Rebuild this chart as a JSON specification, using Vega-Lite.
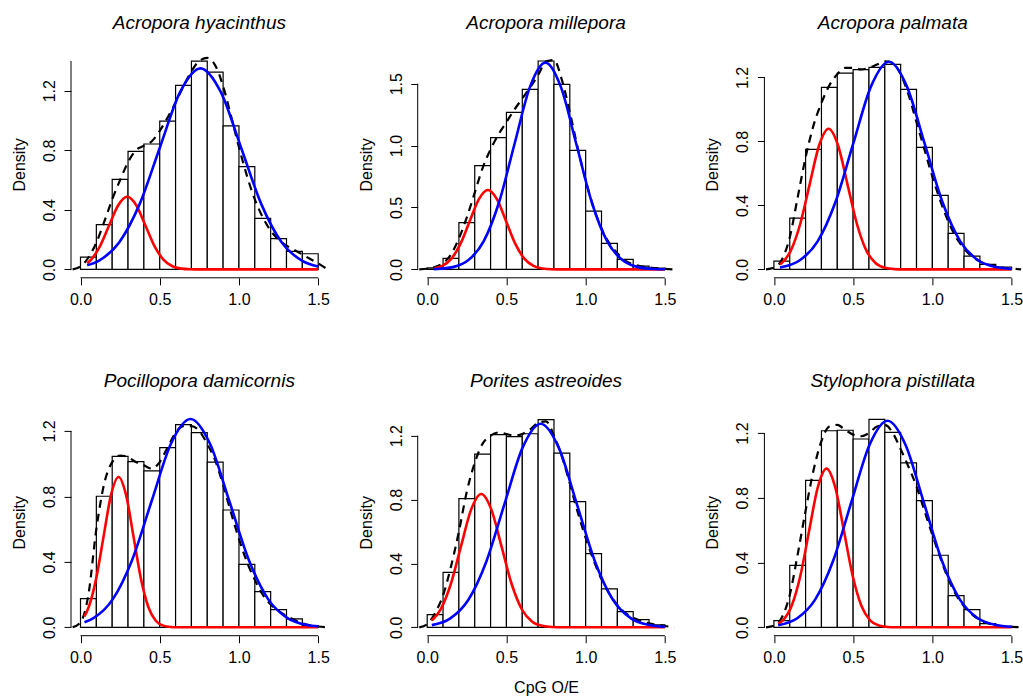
{
"$schema": "https://vega.github.io/schema/vega-lite/v6.json",
"padding": {"left": 11, "top": 14, "right": 5, "bottom": 2},
"background": "white",
"config": {
  "view": {"stroke": null},
  "font": "Liberation Sans",
  "axis": {"labelFont": "Liberation Sans", "labelFontSize": 16, "labelColor": "black", "tickColor": "black", "tickSize": 7, "tickWidth": 1, "domain": false, "grid": false, "titleFont": "Liberation Sans", "titleFontSize": 16, "titleFontWeight": "normal", "titleColor": "black", "labelOverlap": false, "labelFlush": false},
  "axisX": {"labelPadding": 6.8, "titleY": 43.4, "titleBaseline": "top"},
  "axisY": {"labelAngle": 270, "labelAlign": "center", "labelBaseline": "bottom", "labelPadding": 6.5, "titleX": -43.5, "titleY": 113.4, "titleAngle": 270, "titleAlign": "center", "titleBaseline": "bottom"},
  "title": {"font": "Liberation Sans", "fontSize": 19, "fontStyle": "italic", "fontWeight": "normal", "color": "black", "baseline": "alphabetic", "offset": 17.6, "frame": "group", "anchor": "middle"}
},
"datasets": {
"bars": [
{"s":1,"x0":0.0,"x1":0.1,"d":0.083},{"s":1,"x0":0.1,"x1":0.2,"d":0.300},{"s":1,"x0":0.2,"x1":0.3,"d":0.604},{"s":1,"x0":0.3,"x1":0.4,"d":0.792},{"s":1,"x0":0.4,"x1":0.5,"d":0.842},{"s":1,"x0":0.5,"x1":0.6,"d":0.996},{"s":1,"x0":0.6,"x1":0.7,"d":1.236},{"s":1,"x0":0.7,"x1":0.8,"d":1.399},{"s":1,"x0":0.8,"x1":0.9,"d":1.325},{"s":1,"x0":0.9,"x1":1.0,"d":0.963},{"s":1,"x0":1.0,"x1":1.1,"d":0.690},{"s":1,"x0":1.1,"x1":1.2,"d":0.343},{"s":1,"x0":1.2,"x1":1.3,"d":0.206},{"s":1,"x0":1.3,"x1":1.4,"d":0.121},{"s":1,"x0":1.4,"x1":1.5,"d":0.105},
{"s":2,"x0":0.0,"x1":0.1,"d":0.013},{"s":2,"x0":0.1,"x1":0.2,"d":0.089},{"s":2,"x0":0.2,"x1":0.3,"d":0.377},{"s":2,"x0":0.3,"x1":0.4,"d":0.838},{"s":2,"x0":0.4,"x1":0.5,"d":1.064},{"s":2,"x0":0.5,"x1":0.6,"d":1.268},{"s":2,"x0":0.6,"x1":0.7,"d":1.454},{"s":2,"x0":0.7,"x1":0.8,"d":1.683},{"s":2,"x0":0.8,"x1":0.9,"d":1.495},{"s":2,"x0":0.9,"x1":1.0,"d":0.962},{"s":2,"x0":1.0,"x1":1.1,"d":0.471},{"s":2,"x0":1.1,"x1":1.2,"d":0.210},{"s":2,"x0":1.2,"x1":1.3,"d":0.081},{"s":2,"x0":1.3,"x1":1.4,"d":0.027},{"s":2,"x0":1.4,"x1":1.5,"d":0.011},
{"s":3,"x0":0.0,"x1":0.1,"d":0.052},{"s":3,"x0":0.1,"x1":0.2,"d":0.321},{"s":3,"x0":0.2,"x1":0.3,"d":0.750},{"s":3,"x0":0.3,"x1":0.4,"d":1.138},{"s":3,"x0":0.4,"x1":0.5,"d":1.227},{"s":3,"x0":0.5,"x1":0.6,"d":1.248},{"s":3,"x0":0.6,"x1":0.7,"d":1.263},{"s":3,"x0":0.7,"x1":0.8,"d":1.281},{"s":3,"x0":0.8,"x1":0.9,"d":1.125},{"s":3,"x0":0.9,"x1":1.0,"d":0.763},{"s":3,"x0":1.0,"x1":1.1,"d":0.463},{"s":3,"x0":1.1,"x1":1.2,"d":0.225},{"s":3,"x0":1.2,"x1":1.3,"d":0.083},{"s":3,"x0":1.3,"x1":1.4,"d":0.031},{"s":3,"x0":1.4,"x1":1.5,"d":0.015},
{"s":4,"x0":0.0,"x1":0.1,"d":0.175},{"s":4,"x0":0.1,"x1":0.2,"d":0.801},{"s":4,"x0":0.2,"x1":0.3,"d":1.045},{"s":4,"x0":0.3,"x1":0.4,"d":1.013},{"s":4,"x0":0.4,"x1":0.5,"d":0.956},{"s":4,"x0":0.5,"x1":0.6,"d":1.098},{"s":4,"x0":0.6,"x1":0.7,"d":1.239},{"s":4,"x0":0.7,"x1":0.8,"d":1.190},{"s":4,"x0":0.8,"x1":0.9,"d":1.009},{"s":4,"x0":0.9,"x1":1.0,"d":0.717},{"s":4,"x0":1.0,"x1":1.1,"d":0.385},{"s":4,"x0":1.1,"x1":1.2,"d":0.218},{"s":4,"x0":1.2,"x1":1.3,"d":0.108},{"s":4,"x0":1.3,"x1":1.4,"d":0.051},{"s":4,"x0":1.4,"x1":1.5,"d":0.010},
{"s":5,"x0":0.0,"x1":0.1,"d":0.079},{"s":5,"x0":0.1,"x1":0.2,"d":0.344},{"s":5,"x0":0.2,"x1":0.3,"d":0.806},{"s":5,"x0":0.3,"x1":0.4,"d":1.085},{"s":5,"x0":0.4,"x1":0.5,"d":1.206},{"s":5,"x0":0.5,"x1":0.6,"d":1.194},{"s":5,"x0":0.6,"x1":0.7,"d":1.212},{"s":5,"x0":0.7,"x1":0.8,"d":1.300},{"s":5,"x0":0.8,"x1":0.9,"d":1.091},{"s":5,"x0":0.9,"x1":1.0,"d":0.787},{"s":5,"x0":1.0,"x1":1.1,"d":0.461},{"s":5,"x0":1.1,"x1":1.2,"d":0.240},{"s":5,"x0":1.2,"x1":1.3,"d":0.098},{"s":5,"x0":1.3,"x1":1.4,"d":0.048},{"s":5,"x0":1.4,"x1":1.5,"d":0.015},
{"s":6,"x0":0.0,"x1":0.1,"d":0.041},{"s":6,"x0":0.1,"x1":0.2,"d":0.383},{"s":6,"x0":0.2,"x1":0.3,"d":0.908},{"s":6,"x0":0.3,"x1":0.4,"d":1.214},{"s":6,"x0":0.4,"x1":0.5,"d":1.217},{"s":6,"x0":0.5,"x1":0.6,"d":1.163},{"s":6,"x0":0.6,"x1":0.7,"d":1.284},{"s":6,"x0":0.7,"x1":0.8,"d":1.204},{"s":6,"x0":0.8,"x1":0.9,"d":1.015},{"s":6,"x0":0.9,"x1":1.0,"d":0.782},{"s":6,"x0":1.0,"x1":1.1,"d":0.445},{"s":6,"x0":1.1,"x1":1.2,"d":0.196},{"s":6,"x0":1.2,"x1":1.3,"d":0.109},{"s":6,"x0":1.3,"x1":1.4,"d":0.023},{"s":6,"x0":1.4,"x1":1.5,"d":0.006}
],
"curves": [
{"s":1,"c":"r","x":0.042,"y":0.0415},{"s":1,"c":"r","x":0.067,"y":0.066},{"s":1,"c":"r","x":0.124,"y":0.158},{"s":1,"c":"r","x":0.181,"y":0.296},{"s":1,"c":"r","x":0.238,"y":0.431},{"s":1,"c":"r","x":0.295,"y":0.488},{"s":1,"c":"r","x":0.352,"y":0.431},{"s":1,"c":"r","x":0.409,"y":0.296},{"s":1,"c":"r","x":0.466,"y":0.158},{"s":1,"c":"r","x":0.523,"y":0.066},{"s":1,"c":"r","x":0.58,"y":0.0214},{"s":1,"c":"r","x":0.637,"y":0.0054},{"s":1,"c":"r","x":0.694,"y":0.0011},{"s":1,"c":"r","x":0.751,"y":0},{"s":1,"c":"r","x":1.5,"y":0},
{"s":1,"c":"b","x":0.042,"y":0.0276},{"s":1,"c":"b","x":0.117,"y":0.0593},{"s":1,"c":"b","x":0.245,"y":0.1827},{"s":1,"c":"b","x":0.373,"y":0.4383},{"s":1,"c":"b","x":0.501,"y":0.8188},{"s":1,"c":"b","x":0.629,"y":1.1914},{"s":1,"c":"b","x":0.757,"y":1.35},{"s":1,"c":"b","x":0.885,"y":1.1914},{"s":1,"c":"b","x":1.013,"y":0.8188},{"s":1,"c":"b","x":1.141,"y":0.4383},{"s":1,"c":"b","x":1.269,"y":0.1827},{"s":1,"c":"b","x":1.397,"y":0.0593},{"s":1,"c":"b","x":1.5,"y":0.0201},
{"s":2,"c":"r","x":0.042,"y":0.0078},{"s":2,"c":"r","x":0.0955,"y":0.0281},{"s":2,"c":"r","x":0.153,"y":0.0867},{"s":2,"c":"r","x":0.2105,"y":0.2081},{"s":2,"c":"r","x":0.268,"y":0.3888},{"s":2,"c":"r","x":0.3255,"y":0.5657},{"s":2,"c":"r","x":0.383,"y":0.641},{"s":2,"c":"r","x":0.4405,"y":0.5657},{"s":2,"c":"r","x":0.498,"y":0.3888},{"s":2,"c":"r","x":0.5555,"y":0.2081},{"s":2,"c":"r","x":0.613,"y":0.0867},{"s":2,"c":"r","x":0.6705,"y":0.0281},{"s":2,"c":"r","x":0.728,"y":0.0071},{"s":2,"c":"r","x":0.7855,"y":0.0014},{"s":2,"c":"r","x":0.843,"y":0},{"s":2,"c":"r","x":1.5,"y":0},
{"s":2,"c":"b","x":0.042,"y":0.0025},{"s":2,"c":"b","x":0.0635,"y":0.0037},{"s":2,"c":"b","x":0.161,"y":0.0185},{"s":2,"c":"b","x":0.2585,"y":0.0733},{"s":2,"c":"b","x":0.356,"y":0.226},{"s":2,"c":"b","x":0.4535,"y":0.5422},{"s":2,"c":"b","x":0.551,"y":1.0129},{"s":2,"c":"b","x":0.6485,"y":1.4738},{"s":2,"c":"b","x":0.746,"y":1.67},{"s":2,"c":"b","x":0.8435,"y":1.4738},{"s":2,"c":"b","x":0.941,"y":1.0129},{"s":2,"c":"b","x":1.0385,"y":0.5422},{"s":2,"c":"b","x":1.136,"y":0.226},{"s":2,"c":"b","x":1.2335,"y":0.0733},{"s":2,"c":"b","x":1.331,"y":0.0185},{"s":2,"c":"b","x":1.4285,"y":0.0037},{"s":2,"c":"b","x":1.5,"y":0.0015},
{"s":3,"c":"r","x":0.038,"y":0.0315},{"s":3,"c":"r","x":0.0475,"y":0.0386},{"s":3,"c":"r","x":0.107,"y":0.1189},{"s":3,"c":"r","x":0.1665,"y":0.2854},{"s":3,"c":"r","x":0.226,"y":0.5331},{"s":3,"c":"r","x":0.2855,"y":0.7757},{"s":3,"c":"r","x":0.345,"y":0.879},{"s":3,"c":"r","x":0.4045,"y":0.7757},{"s":3,"c":"r","x":0.464,"y":0.5331},{"s":3,"c":"r","x":0.5235,"y":0.2854},{"s":3,"c":"r","x":0.583,"y":0.1189},{"s":3,"c":"r","x":0.6425,"y":0.0386},{"s":3,"c":"r","x":0.702,"y":0.0098},{"s":3,"c":"r","x":0.7615,"y":0.0019},{"s":3,"c":"r","x":0.821,"y":0},{"s":3,"c":"r","x":1.5,"y":0},
{"s":3,"c":"b","x":0.038,"y":0.012},{"s":3,"c":"b","x":0.051,"y":0.0144},{"s":3,"c":"b","x":0.1635,"y":0.057},{"s":3,"c":"b","x":0.276,"y":0.1756},{"s":3,"c":"b","x":0.3885,"y":0.4215},{"s":3,"c":"b","x":0.501,"y":0.7872},{"s":3,"c":"b","x":0.6135,"y":1.1455},{"s":3,"c":"b","x":0.726,"y":1.298},{"s":3,"c":"b","x":0.8385,"y":1.1455},{"s":3,"c":"b","x":0.951,"y":0.7872},{"s":3,"c":"b","x":1.0635,"y":0.4215},{"s":3,"c":"b","x":1.176,"y":0.1756},{"s":3,"c":"b","x":1.2885,"y":0.057},{"s":3,"c":"b","x":1.401,"y":0.0144},{"s":3,"c":"b","x":1.5,"y":0.0035},
{"s":4,"c":"r","x":0.025,"y":0.0669},{"s":4,"c":"r","x":0.052,"y":0.1243},{"s":4,"c":"r","x":0.099,"y":0.2984},{"s":4,"c":"r","x":0.146,"y":0.5574},{"s":4,"c":"r","x":0.193,"y":0.811},{"s":4,"c":"r","x":0.24,"y":0.919},{"s":4,"c":"r","x":0.287,"y":0.811},{"s":4,"c":"r","x":0.334,"y":0.5574},{"s":4,"c":"r","x":0.381,"y":0.2984},{"s":4,"c":"r","x":0.428,"y":0.1243},{"s":4,"c":"r","x":0.475,"y":0.0403},{"s":4,"c":"r","x":0.522,"y":0.0102},{"s":4,"c":"r","x":0.569,"y":0.002},{"s":4,"c":"r","x":0.616,"y":0},{"s":4,"c":"r","x":1.5,"y":0},
{"s":4,"c":"b","x":0.025,"y":0.0305},{"s":4,"c":"b","x":0.0815,"y":0.0559},{"s":4,"c":"b","x":0.204,"y":0.1722},{"s":4,"c":"b","x":0.3265,"y":0.4133},{"s":4,"c":"b","x":0.449,"y":0.7721},{"s":4,"c":"b","x":0.5715,"y":1.1234},{"s":4,"c":"b","x":0.694,"y":1.273},{"s":4,"c":"b","x":0.8165,"y":1.1234},{"s":4,"c":"b","x":0.939,"y":0.7721},{"s":4,"c":"b","x":1.0615,"y":0.4133},{"s":4,"c":"b","x":1.184,"y":0.1722},{"s":4,"c":"b","x":1.3065,"y":0.0559},{"s":4,"c":"b","x":1.429,"y":0.0141},{"s":4,"c":"b","x":1.5,"y":0.0057},
{"s":5,"c":"r","x":0.029,"y":0.0428},{"s":5,"c":"r","x":0.085,"y":0.113},{"s":5,"c":"r","x":0.149,"y":0.2711},{"s":5,"c":"r","x":0.213,"y":0.5064},{"s":5,"c":"r","x":0.277,"y":0.7369},{"s":5,"c":"r","x":0.341,"y":0.835},{"s":5,"c":"r","x":0.405,"y":0.7369},{"s":5,"c":"r","x":0.469,"y":0.5064},{"s":5,"c":"r","x":0.533,"y":0.2711},{"s":5,"c":"r","x":0.597,"y":0.113},{"s":5,"c":"r","x":0.661,"y":0.0367},{"s":5,"c":"r","x":0.725,"y":0.0093},{"s":5,"c":"r","x":0.789,"y":0.0018},{"s":5,"c":"r","x":0.853,"y":0},{"s":5,"c":"r","x":1.5,"y":0},
{"s":5,"c":"b","x":0.029,"y":0.0136},{"s":5,"c":"b","x":0.146,"y":0.056},{"s":5,"c":"b","x":0.26,"y":0.1725},{"s":5,"c":"b","x":0.374,"y":0.414},{"s":5,"c":"b","x":0.488,"y":0.7733},{"s":5,"c":"b","x":0.602,"y":1.1252},{"s":5,"c":"b","x":0.716,"y":1.275},{"s":5,"c":"b","x":0.83,"y":1.1252},{"s":5,"c":"b","x":0.944,"y":0.7733},{"s":5,"c":"b","x":1.058,"y":0.414},{"s":5,"c":"b","x":1.172,"y":0.1725},{"s":5,"c":"b","x":1.286,"y":0.056},{"s":5,"c":"b","x":1.4,"y":0.0142},{"s":5,"c":"b","x":1.5,"y":0.0034},
{"s":6,"c":"r","x":0.027,"y":0.0211},{"s":6,"c":"r","x":0.057,"y":0.043},{"s":6,"c":"r","x":0.112,"y":0.1326},{"s":6,"c":"r","x":0.167,"y":0.3182},{"s":6,"c":"r","x":0.222,"y":0.5944},{"s":6,"c":"r","x":0.277,"y":0.8649},{"s":6,"c":"r","x":0.332,"y":0.98},{"s":6,"c":"r","x":0.387,"y":0.8649},{"s":6,"c":"r","x":0.442,"y":0.5944},{"s":6,"c":"r","x":0.497,"y":0.3182},{"s":6,"c":"r","x":0.552,"y":0.1326},{"s":6,"c":"r","x":0.607,"y":0.043},{"s":6,"c":"r","x":0.662,"y":0.0109},{"s":6,"c":"r","x":0.717,"y":0.0022},{"s":6,"c":"r","x":0.772,"y":0},{"s":6,"c":"r","x":1.5,"y":0},
{"s":6,"c":"b","x":0.027,"y":0.013},{"s":6,"c":"b","x":0.147,"y":0.056},{"s":6,"c":"b","x":0.261,"y":0.1727},{"s":6,"c":"b","x":0.375,"y":0.4143},{"s":6,"c":"b","x":0.489,"y":0.7739},{"s":6,"c":"b","x":0.603,"y":1.1261},{"s":6,"c":"b","x":0.717,"y":1.276},{"s":6,"c":"b","x":0.831,"y":1.1261},{"s":6,"c":"b","x":0.945,"y":0.7739},{"s":6,"c":"b","x":1.059,"y":0.4143},{"s":6,"c":"b","x":1.173,"y":0.1727},{"s":6,"c":"b","x":1.287,"y":0.056},{"s":6,"c":"b","x":1.401,"y":0.0142},{"s":6,"c":"b","x":1.5,"y":0.0034},
{"s":1,"c":"k","x":-0.05,"y":0},{"s":1,"c":"k","x":0,"y":0.02},{"s":1,"c":"k","x":0.05,"y":0.08},{"s":1,"c":"k","x":0.1,"y":0.18},{"s":1,"c":"k","x":0.15,"y":0.32},{"s":1,"c":"k","x":0.2,"y":0.47},{"s":1,"c":"k","x":0.25,"y":0.6},{"s":1,"c":"k","x":0.3,"y":0.72},{"s":1,"c":"k","x":0.35,"y":0.8},{"s":1,"c":"k","x":0.4,"y":0.83},{"s":1,"c":"k","x":0.45,"y":0.86},{"s":1,"c":"k","x":0.5,"y":0.93},{"s":1,"c":"k","x":0.55,"y":1.02},{"s":1,"c":"k","x":0.6,"y":1.12},{"s":1,"c":"k","x":0.65,"y":1.23},{"s":1,"c":"k","x":0.7,"y":1.33},{"s":1,"c":"k","x":0.75,"y":1.4},{"s":1,"c":"k","x":0.8,"y":1.42},{"s":1,"c":"k","x":0.85,"y":1.37},{"s":1,"c":"k","x":0.9,"y":1.23},{"s":1,"c":"k","x":0.95,"y":1.03},{"s":1,"c":"k","x":1.0,"y":0.82},{"s":1,"c":"k","x":1.05,"y":0.63},{"s":1,"c":"k","x":1.1,"y":0.47},{"s":1,"c":"k","x":1.15,"y":0.35},{"s":1,"c":"k","x":1.2,"y":0.26},{"s":1,"c":"k","x":1.25,"y":0.2},{"s":1,"c":"k","x":1.3,"y":0.16},{"s":1,"c":"k","x":1.35,"y":0.13},{"s":1,"c":"k","x":1.4,"y":0.1},{"s":1,"c":"k","x":1.45,"y":0.07},{"s":1,"c":"k","x":1.5,"y":0.04},{"s":1,"c":"k","x":1.56,"y":0},
{"s":2,"c":"k","x":-0.05,"y":0},{"s":2,"c":"k","x":0,"y":0.005},{"s":2,"c":"k","x":0.05,"y":0.02},{"s":2,"c":"k","x":0.1,"y":0.05},{"s":2,"c":"k","x":0.15,"y":0.12},{"s":2,"c":"k","x":0.2,"y":0.25},{"s":2,"c":"k","x":0.25,"y":0.42},{"s":2,"c":"k","x":0.3,"y":0.62},{"s":2,"c":"k","x":0.35,"y":0.82},{"s":2,"c":"k","x":0.4,"y":0.97},{"s":2,"c":"k","x":0.45,"y":1.09},{"s":2,"c":"k","x":0.5,"y":1.19},{"s":2,"c":"k","x":0.55,"y":1.29},{"s":2,"c":"k","x":0.6,"y":1.38},{"s":2,"c":"k","x":0.65,"y":1.47},{"s":2,"c":"k","x":0.7,"y":1.57},{"s":2,"c":"k","x":0.75,"y":1.68},{"s":2,"c":"k","x":0.8,"y":1.69},{"s":2,"c":"k","x":0.85,"y":1.53},{"s":2,"c":"k","x":0.9,"y":1.27},{"s":2,"c":"k","x":0.95,"y":0.98},{"s":2,"c":"k","x":1.0,"y":0.72},{"s":2,"c":"k","x":1.05,"y":0.5},{"s":2,"c":"k","x":1.1,"y":0.33},{"s":2,"c":"k","x":1.15,"y":0.21},{"s":2,"c":"k","x":1.2,"y":0.13},{"s":2,"c":"k","x":1.25,"y":0.07},{"s":2,"c":"k","x":1.3,"y":0.04},{"s":2,"c":"k","x":1.35,"y":0.025},{"s":2,"c":"k","x":1.4,"y":0.015},{"s":2,"c":"k","x":1.45,"y":0.01},{"s":2,"c":"k","x":1.5,"y":0.005},{"s":2,"c":"k","x":1.56,"y":0},
{"s":3,"c":"k","x":-0.05,"y":0},{"s":3,"c":"k","x":0,"y":0.01},{"s":3,"c":"k","x":0.05,"y":0.06},{"s":3,"c":"k","x":0.1,"y":0.2},{"s":3,"c":"k","x":0.15,"y":0.45},{"s":3,"c":"k","x":0.2,"y":0.7},{"s":3,"c":"k","x":0.25,"y":0.9},{"s":3,"c":"k","x":0.3,"y":1.04},{"s":3,"c":"k","x":0.35,"y":1.15},{"s":3,"c":"k","x":0.4,"y":1.22},{"s":3,"c":"k","x":0.45,"y":1.26},{"s":3,"c":"k","x":0.5,"y":1.26},{"s":3,"c":"k","x":0.55,"y":1.25},{"s":3,"c":"k","x":0.6,"y":1.26},{"s":3,"c":"k","x":0.65,"y":1.28},{"s":3,"c":"k","x":0.7,"y":1.3},{"s":3,"c":"k","x":0.75,"y":1.29},{"s":3,"c":"k","x":0.8,"y":1.22},{"s":3,"c":"k","x":0.85,"y":1.09},{"s":3,"c":"k","x":0.9,"y":0.92},{"s":3,"c":"k","x":0.95,"y":0.75},{"s":3,"c":"k","x":1.0,"y":0.58},{"s":3,"c":"k","x":1.05,"y":0.43},{"s":3,"c":"k","x":1.1,"y":0.3},{"s":3,"c":"k","x":1.15,"y":0.2},{"s":3,"c":"k","x":1.2,"y":0.13},{"s":3,"c":"k","x":1.25,"y":0.08},{"s":3,"c":"k","x":1.3,"y":0.05},{"s":3,"c":"k","x":1.35,"y":0.03},{"s":3,"c":"k","x":1.4,"y":0.02},{"s":3,"c":"k","x":1.45,"y":0.01},{"s":3,"c":"k","x":1.5,"y":0.005},{"s":3,"c":"k","x":1.56,"y":0},
{"s":4,"c":"k","x":-0.05,"y":0},{"s":4,"c":"k","x":0,"y":0.03},{"s":4,"c":"k","x":0.05,"y":0.2},{"s":4,"c":"k","x":0.1,"y":0.6},{"s":4,"c":"k","x":0.15,"y":0.88},{"s":4,"c":"k","x":0.2,"y":1.01},{"s":4,"c":"k","x":0.25,"y":1.05},{"s":4,"c":"k","x":0.3,"y":1.04},{"s":4,"c":"k","x":0.35,"y":1.01},{"s":4,"c":"k","x":0.4,"y":0.99},{"s":4,"c":"k","x":0.45,"y":0.97},{"s":4,"c":"k","x":0.5,"y":1.01},{"s":4,"c":"k","x":0.55,"y":1.1},{"s":4,"c":"k","x":0.6,"y":1.19},{"s":4,"c":"k","x":0.65,"y":1.23},{"s":4,"c":"k","x":0.7,"y":1.23},{"s":4,"c":"k","x":0.75,"y":1.2},{"s":4,"c":"k","x":0.8,"y":1.12},{"s":4,"c":"k","x":0.85,"y":1.02},{"s":4,"c":"k","x":0.9,"y":0.87},{"s":4,"c":"k","x":0.95,"y":0.7},{"s":4,"c":"k","x":1.0,"y":0.54},{"s":4,"c":"k","x":1.05,"y":0.4},{"s":4,"c":"k","x":1.1,"y":0.29},{"s":4,"c":"k","x":1.15,"y":0.2},{"s":4,"c":"k","x":1.2,"y":0.14},{"s":4,"c":"k","x":1.25,"y":0.1},{"s":4,"c":"k","x":1.3,"y":0.07},{"s":4,"c":"k","x":1.35,"y":0.045},{"s":4,"c":"k","x":1.4,"y":0.025},{"s":4,"c":"k","x":1.45,"y":0.012},{"s":4,"c":"k","x":1.5,"y":0.005},{"s":4,"c":"k","x":1.56,"y":0},
{"s":5,"c":"k","x":-0.05,"y":0},{"s":5,"c":"k","x":0,"y":0.02},{"s":5,"c":"k","x":0.05,"y":0.09},{"s":5,"c":"k","x":0.1,"y":0.2},{"s":5,"c":"k","x":0.15,"y":0.38},{"s":5,"c":"k","x":0.2,"y":0.6},{"s":5,"c":"k","x":0.25,"y":0.85},{"s":5,"c":"k","x":0.3,"y":1.03},{"s":5,"c":"k","x":0.35,"y":1.15},{"s":5,"c":"k","x":0.4,"y":1.2},{"s":5,"c":"k","x":0.45,"y":1.22},{"s":5,"c":"k","x":0.5,"y":1.21},{"s":5,"c":"k","x":0.55,"y":1.2},{"s":5,"c":"k","x":0.6,"y":1.21},{"s":5,"c":"k","x":0.65,"y":1.24},{"s":5,"c":"k","x":0.7,"y":1.28},{"s":5,"c":"k","x":0.75,"y":1.29},{"s":5,"c":"k","x":0.8,"y":1.2},{"s":5,"c":"k","x":0.85,"y":1.07},{"s":5,"c":"k","x":0.9,"y":0.9},{"s":5,"c":"k","x":0.95,"y":0.72},{"s":5,"c":"k","x":1.0,"y":0.56},{"s":5,"c":"k","x":1.05,"y":0.42},{"s":5,"c":"k","x":1.1,"y":0.3},{"s":5,"c":"k","x":1.15,"y":0.21},{"s":5,"c":"k","x":1.2,"y":0.14},{"s":5,"c":"k","x":1.25,"y":0.09},{"s":5,"c":"k","x":1.3,"y":0.06},{"s":5,"c":"k","x":1.35,"y":0.04},{"s":5,"c":"k","x":1.4,"y":0.025},{"s":5,"c":"k","x":1.45,"y":0.015},{"s":5,"c":"k","x":1.5,"y":0.008},{"s":5,"c":"k","x":1.56,"y":0},
{"s":6,"c":"k","x":-0.05,"y":0},{"s":6,"c":"k","x":0,"y":0.01},{"s":6,"c":"k","x":0.05,"y":0.06},{"s":6,"c":"k","x":0.1,"y":0.2},{"s":6,"c":"k","x":0.15,"y":0.45},{"s":6,"c":"k","x":0.2,"y":0.72},{"s":6,"c":"k","x":0.25,"y":0.97},{"s":6,"c":"k","x":0.3,"y":1.15},{"s":6,"c":"k","x":0.35,"y":1.24},{"s":6,"c":"k","x":0.4,"y":1.25},{"s":6,"c":"k","x":0.45,"y":1.22},{"s":6,"c":"k","x":0.5,"y":1.19},{"s":6,"c":"k","x":0.55,"y":1.18},{"s":6,"c":"k","x":0.6,"y":1.2},{"s":6,"c":"k","x":0.65,"y":1.24},{"s":6,"c":"k","x":0.7,"y":1.25},{"s":6,"c":"k","x":0.75,"y":1.2},{"s":6,"c":"k","x":0.8,"y":1.1},{"s":6,"c":"k","x":0.85,"y":0.99},{"s":6,"c":"k","x":0.9,"y":0.87},{"s":6,"c":"k","x":0.95,"y":0.72},{"s":6,"c":"k","x":1.0,"y":0.57},{"s":6,"c":"k","x":1.05,"y":0.43},{"s":6,"c":"k","x":1.1,"y":0.3},{"s":6,"c":"k","x":1.15,"y":0.2},{"s":6,"c":"k","x":1.2,"y":0.13},{"s":6,"c":"k","x":1.25,"y":0.08},{"s":6,"c":"k","x":1.3,"y":0.045},{"s":6,"c":"k","x":1.35,"y":0.025},{"s":6,"c":"k","x":1.4,"y":0.012},{"s":6,"c":"k","x":1.45,"y":0.006},{"s":6,"c":"k","x":1.5,"y":0.003},{"s":6,"c":"k","x":1.56,"y":0}
]
},
"columns": 3,
"bounds": "flush",
"spacing": {"column": 89.7, "row": 130.9},
"concat": [
{"title": {"text": "Acropora hyacinthus"}, "width": 256.7, "height": 226.8,
 "layer": [
  {"data": {"name": "bars"}, "transform": [{"filter": "datum.s == 1"}], "mark": {"type": "rect", "fill": "white", "stroke": "black", "strokeWidth": 1.2},
   "encoding": {"x": {"field": "x0", "type": "quantitative", "scale": {"domain": [-0.06, 1.56], "nice": false, "zero": false}, "axis": {"values": [0, 0.5, 1, 1.5], "format": ".1f", "title": null}}, "x2": {"field": "x1"},
    "y": {"field": "d", "type": "quantitative", "scale": {"domain": [-0.0564, 1.4664], "nice": false, "zero": false}, "axis": {"values": [0, 0.2, 0.4, 0.6, 0.8, 1, 1.2, 1.4], "labelExpr": "round(datum.value*10) % 4 == 0 ? format(datum.value, '.1f') : ''", "title": "Density"}}, "y2": {"datum": 0}}},
  {"data": {"name": "curves"}, "transform": [{"filter": "datum.s == 1 && datum.c == 'k'"}], "mark": {"type": "line", "color": "black", "strokeWidth": 2.2, "strokeDash": [8, 6], "interpolate": "monotone"}, "encoding": {"x": {"field": "x", "type": "quantitative"}, "y": {"field": "y", "type": "quantitative"}}},
  {"data": {"name": "curves"}, "transform": [{"filter": "datum.s == 1 && datum.c == 'r'"}], "mark": {"type": "line", "color": "#FF0000", "strokeWidth": 2.6, "interpolate": "monotone"}, "encoding": {"x": {"field": "x", "type": "quantitative"}, "y": {"field": "y", "type": "quantitative"}}},
  {"data": {"name": "curves"}, "transform": [{"filter": "datum.s == 1 && datum.c == 'b'"}], "mark": {"type": "line", "color": "#0000FF", "strokeWidth": 2.6, "interpolate": "monotone"}, "encoding": {"x": {"field": "x", "type": "quantitative"}, "y": {"field": "y", "type": "quantitative"}}},
  {"data": {"values": [{}]}, "mark": {"type": "rule", "color": "black", "strokeWidth": 1}, "encoding": {"x": {"datum": 0}, "x2": {"datum": 1.5}, "y": {"datum": -0.0564}}},
  {"data": {"values": [{}]}, "mark": {"type": "rule", "color": "black", "strokeWidth": 1}, "encoding": {"x": {"datum": -0.06}, "y": {"datum": 0}, "y2": {"datum": 1.4}}}
 ]},
{"title": {"text": "Acropora millepora"}, "width": 256.7, "height": 226.8,
 "layer": [
  {"data": {"name": "bars"}, "transform": [{"filter": "datum.s == 2"}], "mark": {"type": "rect", "fill": "white", "stroke": "black", "strokeWidth": 1.2},
   "encoding": {"x": {"field": "x0", "type": "quantitative", "scale": {"domain": [-0.06, 1.56], "nice": false, "zero": false}, "axis": {"values": [0, 0.5, 1, 1.5], "format": ".1f", "title": null}}, "x2": {"field": "x1"},
    "y": {"field": "d", "type": "quantitative", "scale": {"domain": [-0.0678, 1.7638], "nice": false, "zero": false}, "axis": {"values": [0, 0.5, 1, 1.5], "format": ".1f", "title": "Density"}}, "y2": {"datum": 0}}},
  {"data": {"name": "curves"}, "transform": [{"filter": "datum.s == 2 && datum.c == 'k'"}], "mark": {"type": "line", "color": "black", "strokeWidth": 2.2, "strokeDash": [8, 6], "interpolate": "monotone"}, "encoding": {"x": {"field": "x", "type": "quantitative"}, "y": {"field": "y", "type": "quantitative"}}},
  {"data": {"name": "curves"}, "transform": [{"filter": "datum.s == 2 && datum.c == 'r'"}], "mark": {"type": "line", "color": "#FF0000", "strokeWidth": 2.6, "interpolate": "monotone"}, "encoding": {"x": {"field": "x", "type": "quantitative"}, "y": {"field": "y", "type": "quantitative"}}},
  {"data": {"name": "curves"}, "transform": [{"filter": "datum.s == 2 && datum.c == 'b'"}], "mark": {"type": "line", "color": "#0000FF", "strokeWidth": 2.6, "interpolate": "monotone"}, "encoding": {"x": {"field": "x", "type": "quantitative"}, "y": {"field": "y", "type": "quantitative"}}},
  {"data": {"values": [{}]}, "mark": {"type": "rule", "color": "black", "strokeWidth": 1}, "encoding": {"x": {"datum": 0}, "x2": {"datum": 1.5}, "y": {"datum": -0.0678}}},
  {"data": {"values": [{}]}, "mark": {"type": "rule", "color": "black", "strokeWidth": 1}, "encoding": {"x": {"datum": -0.06}, "y": {"datum": 0}, "y2": {"datum": 1.5}}}
 ]},
{"title": {"text": "Acropora palmata"}, "width": 256.7, "height": 226.8,
 "layer": [
  {"data": {"name": "bars"}, "transform": [{"filter": "datum.s == 3"}], "mark": {"type": "rect", "fill": "white", "stroke": "black", "strokeWidth": 1.2},
   "encoding": {"x": {"field": "x0", "type": "quantitative", "scale": {"domain": [-0.06, 1.56], "nice": false, "zero": false}, "axis": {"values": [0, 0.5, 1, 1.5], "format": ".1f", "title": null}}, "x2": {"field": "x1"},
    "y": {"field": "d", "type": "quantitative", "scale": {"domain": [-0.0525, 1.365], "nice": false, "zero": false}, "axis": {"values": [0, 0.2, 0.4, 0.6, 0.8, 1, 1.2], "labelExpr": "round(datum.value*10) % 4 == 0 ? format(datum.value, '.1f') : ''", "title": "Density"}}, "y2": {"datum": 0}}},
  {"data": {"name": "curves"}, "transform": [{"filter": "datum.s == 3 && datum.c == 'k'"}], "mark": {"type": "line", "color": "black", "strokeWidth": 2.2, "strokeDash": [8, 6], "interpolate": "monotone"}, "encoding": {"x": {"field": "x", "type": "quantitative"}, "y": {"field": "y", "type": "quantitative"}}},
  {"data": {"name": "curves"}, "transform": [{"filter": "datum.s == 3 && datum.c == 'r'"}], "mark": {"type": "line", "color": "#FF0000", "strokeWidth": 2.6, "interpolate": "monotone"}, "encoding": {"x": {"field": "x", "type": "quantitative"}, "y": {"field": "y", "type": "quantitative"}}},
  {"data": {"name": "curves"}, "transform": [{"filter": "datum.s == 3 && datum.c == 'b'"}], "mark": {"type": "line", "color": "#0000FF", "strokeWidth": 2.6, "interpolate": "monotone"}, "encoding": {"x": {"field": "x", "type": "quantitative"}, "y": {"field": "y", "type": "quantitative"}}},
  {"data": {"values": [{}]}, "mark": {"type": "rule", "color": "black", "strokeWidth": 1}, "encoding": {"x": {"datum": 0}, "x2": {"datum": 1.5}, "y": {"datum": -0.0525}}},
  {"data": {"values": [{}]}, "mark": {"type": "rule", "color": "black", "strokeWidth": 1}, "encoding": {"x": {"datum": -0.06}, "y": {"datum": 0}, "y2": {"datum": 1.2}}}
 ]},
{"title": {"text": "Pocillopora damicornis"}, "width": 256.7, "height": 226.8,
 "layer": [
  {"data": {"name": "bars"}, "transform": [{"filter": "datum.s == 4"}], "mark": {"type": "rect", "fill": "white", "stroke": "black", "strokeWidth": 1.2},
   "encoding": {"x": {"field": "x0", "type": "quantitative", "scale": {"domain": [-0.06, 1.56], "nice": false, "zero": false}, "axis": {"values": [0, 0.5, 1, 1.5], "format": ".1f", "title": null}}, "x2": {"field": "x1"},
    "y": {"field": "d", "type": "quantitative", "scale": {"domain": [-0.0513, 1.3349], "nice": false, "zero": false}, "axis": {"values": [0, 0.2, 0.4, 0.6, 0.8, 1, 1.2], "labelExpr": "round(datum.value*10) % 4 == 0 ? format(datum.value, '.1f') : ''", "title": "Density"}}, "y2": {"datum": 0}}},
  {"data": {"name": "curves"}, "transform": [{"filter": "datum.s == 4 && datum.c == 'k'"}], "mark": {"type": "line", "color": "black", "strokeWidth": 2.2, "strokeDash": [8, 6], "interpolate": "monotone"}, "encoding": {"x": {"field": "x", "type": "quantitative"}, "y": {"field": "y", "type": "quantitative"}}},
  {"data": {"name": "curves"}, "transform": [{"filter": "datum.s == 4 && datum.c == 'r'"}], "mark": {"type": "line", "color": "#FF0000", "strokeWidth": 2.6, "interpolate": "monotone"}, "encoding": {"x": {"field": "x", "type": "quantitative"}, "y": {"field": "y", "type": "quantitative"}}},
  {"data": {"name": "curves"}, "transform": [{"filter": "datum.s == 4 && datum.c == 'b'"}], "mark": {"type": "line", "color": "#0000FF", "strokeWidth": 2.6, "interpolate": "monotone"}, "encoding": {"x": {"field": "x", "type": "quantitative"}, "y": {"field": "y", "type": "quantitative"}}},
  {"data": {"values": [{}]}, "mark": {"type": "rule", "color": "black", "strokeWidth": 1}, "encoding": {"x": {"datum": 0}, "x2": {"datum": 1.5}, "y": {"datum": -0.0513}}},
  {"data": {"values": [{}]}, "mark": {"type": "rule", "color": "black", "strokeWidth": 1}, "encoding": {"x": {"datum": -0.06}, "y": {"datum": 0}, "y2": {"datum": 1.2}}}
 ]},
{"title": {"text": "Porites astreoides"}, "width": 256.7, "height": 226.8,
 "layer": [
  {"data": {"name": "bars"}, "transform": [{"filter": "datum.s == 5"}], "mark": {"type": "rect", "fill": "white", "stroke": "black", "strokeWidth": 1.2},
   "encoding": {"x": {"field": "x0", "type": "quantitative", "scale": {"domain": [-0.06, 1.56], "nice": false, "zero": false}, "axis": {"values": [0, 0.5, 1, 1.5], "format": ".1f", "title": "CpG O/E"}}, "x2": {"field": "x1"},
    "y": {"field": "d", "type": "quantitative", "scale": {"domain": [-0.0526, 1.3676], "nice": false, "zero": false}, "axis": {"values": [0, 0.2, 0.4, 0.6, 0.8, 1, 1.2], "labelExpr": "round(datum.value*10) % 4 == 0 ? format(datum.value, '.1f') : ''", "title": "Density"}}, "y2": {"datum": 0}}},
  {"data": {"name": "curves"}, "transform": [{"filter": "datum.s == 5 && datum.c == 'k'"}], "mark": {"type": "line", "color": "black", "strokeWidth": 2.2, "strokeDash": [8, 6], "interpolate": "monotone"}, "encoding": {"x": {"field": "x", "type": "quantitative"}, "y": {"field": "y", "type": "quantitative"}}},
  {"data": {"name": "curves"}, "transform": [{"filter": "datum.s == 5 && datum.c == 'r'"}], "mark": {"type": "line", "color": "#FF0000", "strokeWidth": 2.6, "interpolate": "monotone"}, "encoding": {"x": {"field": "x", "type": "quantitative"}, "y": {"field": "y", "type": "quantitative"}}},
  {"data": {"name": "curves"}, "transform": [{"filter": "datum.s == 5 && datum.c == 'b'"}], "mark": {"type": "line", "color": "#0000FF", "strokeWidth": 2.6, "interpolate": "monotone"}, "encoding": {"x": {"field": "x", "type": "quantitative"}, "y": {"field": "y", "type": "quantitative"}}},
  {"data": {"values": [{}]}, "mark": {"type": "rule", "color": "black", "strokeWidth": 1}, "encoding": {"x": {"datum": 0}, "x2": {"datum": 1.5}, "y": {"datum": -0.0526}}},
  {"data": {"values": [{}]}, "mark": {"type": "rule", "color": "black", "strokeWidth": 1}, "encoding": {"x": {"datum": -0.06}, "y": {"datum": 0}, "y2": {"datum": 1.2}}}
 ]},
{"title": {"text": "Stylophora pistillata"}, "width": 256.7, "height": 226.8,
 "layer": [
  {"data": {"name": "bars"}, "transform": [{"filter": "datum.s == 6"}], "mark": {"type": "rect", "fill": "white", "stroke": "black", "strokeWidth": 1.2},
   "encoding": {"x": {"field": "x0", "type": "quantitative", "scale": {"domain": [-0.06, 1.56], "nice": false, "zero": false}, "axis": {"values": [0, 0.5, 1, 1.5], "format": ".1f", "title": null}}, "x2": {"field": "x1"},
    "y": {"field": "d", "type": "quantitative", "scale": {"domain": [-0.0519, 1.3489], "nice": false, "zero": false}, "axis": {"values": [0, 0.2, 0.4, 0.6, 0.8, 1, 1.2], "labelExpr": "round(datum.value*10) % 4 == 0 ? format(datum.value, '.1f') : ''", "title": "Density"}}, "y2": {"datum": 0}}},
  {"data": {"name": "curves"}, "transform": [{"filter": "datum.s == 6 && datum.c == 'k'"}], "mark": {"type": "line", "color": "black", "strokeWidth": 2.2, "strokeDash": [8, 6], "interpolate": "monotone"}, "encoding": {"x": {"field": "x", "type": "quantitative"}, "y": {"field": "y", "type": "quantitative"}}},
  {"data": {"name": "curves"}, "transform": [{"filter": "datum.s == 6 && datum.c == 'r'"}], "mark": {"type": "line", "color": "#FF0000", "strokeWidth": 2.6, "interpolate": "monotone"}, "encoding": {"x": {"field": "x", "type": "quantitative"}, "y": {"field": "y", "type": "quantitative"}}},
  {"data": {"name": "curves"}, "transform": [{"filter": "datum.s == 6 && datum.c == 'b'"}], "mark": {"type": "line", "color": "#0000FF", "strokeWidth": 2.6, "interpolate": "monotone"}, "encoding": {"x": {"field": "x", "type": "quantitative"}, "y": {"field": "y", "type": "quantitative"}}},
  {"data": {"values": [{}]}, "mark": {"type": "rule", "color": "black", "strokeWidth": 1}, "encoding": {"x": {"datum": 0}, "x2": {"datum": 1.5}, "y": {"datum": -0.0519}}},
  {"data": {"values": [{}]}, "mark": {"type": "rule", "color": "black", "strokeWidth": 1}, "encoding": {"x": {"datum": -0.06}, "y": {"datum": 0}, "y2": {"datum": 1.2}}}
 ]}
]
}
